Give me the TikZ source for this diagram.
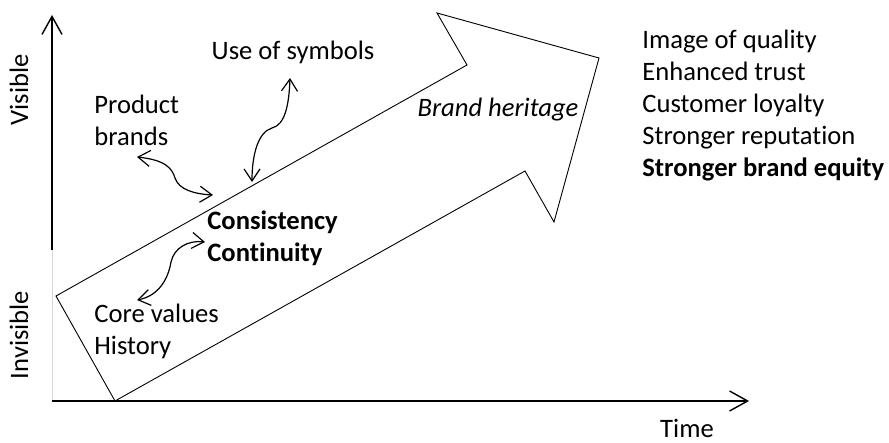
\documentclass[tikz,border=0pt]{standalone}
\usepackage{fontspec}
\setmainfont{Carlito}[Ligatures=NoCommon]
\usetikzlibrary{arrows.meta}

\begin{document}
\begin{tikzpicture}[x=0.5pt,y=-0.5pt,
		axis/.style={line width=0.7pt,-{Straight Barb[length=9pt,width=10pt]}},
		link/.style={line width=0.6pt,{Straight Barb[length=6pt,width=8pt]}-{Straight Barb[length=6pt,width=8pt]}},
		txt/.style={font=\fontsize{13.3}{16}\selectfont,inner sep=0pt,align=left}]
		\useasboundingbox (0,0) rectangle (889,443);
		% axes
		\coordinate (origin) at (52,401);
		\coordinate (ymid) at (52,250);
		\coordinate (ytop) at (52,15);
		\coordinate (xend) at (749,401);
		\draw[axis] (ymid) -- (ytop);
		\draw[line width=0.5pt,black!15] (ymid) -- (origin);
		\draw[axis] (origin) -- (xend);
		\node[txt,rotate=90] (visible) at (19,90) {Visible};
		\node[txt,rotate=90] (invisible) at (19,335) {Invisible};
		\node[txt] (time) at (687,428) {Time};
		% big arrow
		\draw[line width=0.45pt,line join=miter] (115,401) -- (56,296) -- (467,65) -- (437,13)
		-- (599,58) -- (554,222) -- (525,171) -- cycle;
		% texts
		\node[txt] (symbols) at (293,52) {Use of symbols};
		\node[txt,anchor=west] (brands) at (94,120) {Product\\brands};
		\node[txt,anchor=west] (consist) at (207,238) {\bfseries Consistency\\\bfseries Continuity};
		\node[txt,anchor=west] (core) at (94,331) {Core values\\History};
		\node[txt,font=\fontsize{13.3}{16}\selectfont\itshape] (heritage) at (498,110) {Brand heritage};
		\node[txt,anchor=west] (outcomes) at (642,106) {Image of quality\\Enhanced trust\\Customer loyalty\\Stronger reputation\\\bfseries Stronger brand equity};
		% wavy links
		\coordinate (brandsTip) at (137,157);
		\coordinate (edgeA) at (213,195);
		\coordinate (symbolsTip) at (290,78);
		\coordinate (edgeB) at (252,182);
		\coordinate (consistTip) at (205,242);
		\coordinate (coreTip) at (137,300);
		\draw[link] (brandsTip) .. controls (165,160) and (172,168) .. (175,178)
		.. controls (179,190) and (195,194) .. (edgeA);
		\draw[link] (symbolsTip) .. controls (289,105) and (285,125) .. (272,128)
		.. controls (258,132) and (252,155) .. (edgeB);
		\draw[link] (consistTip) .. controls (188,240) and (174,248) .. (171,262)
		.. controls (168,280) and (158,296) .. (coreTip);
\end{tikzpicture}
\end{document}
